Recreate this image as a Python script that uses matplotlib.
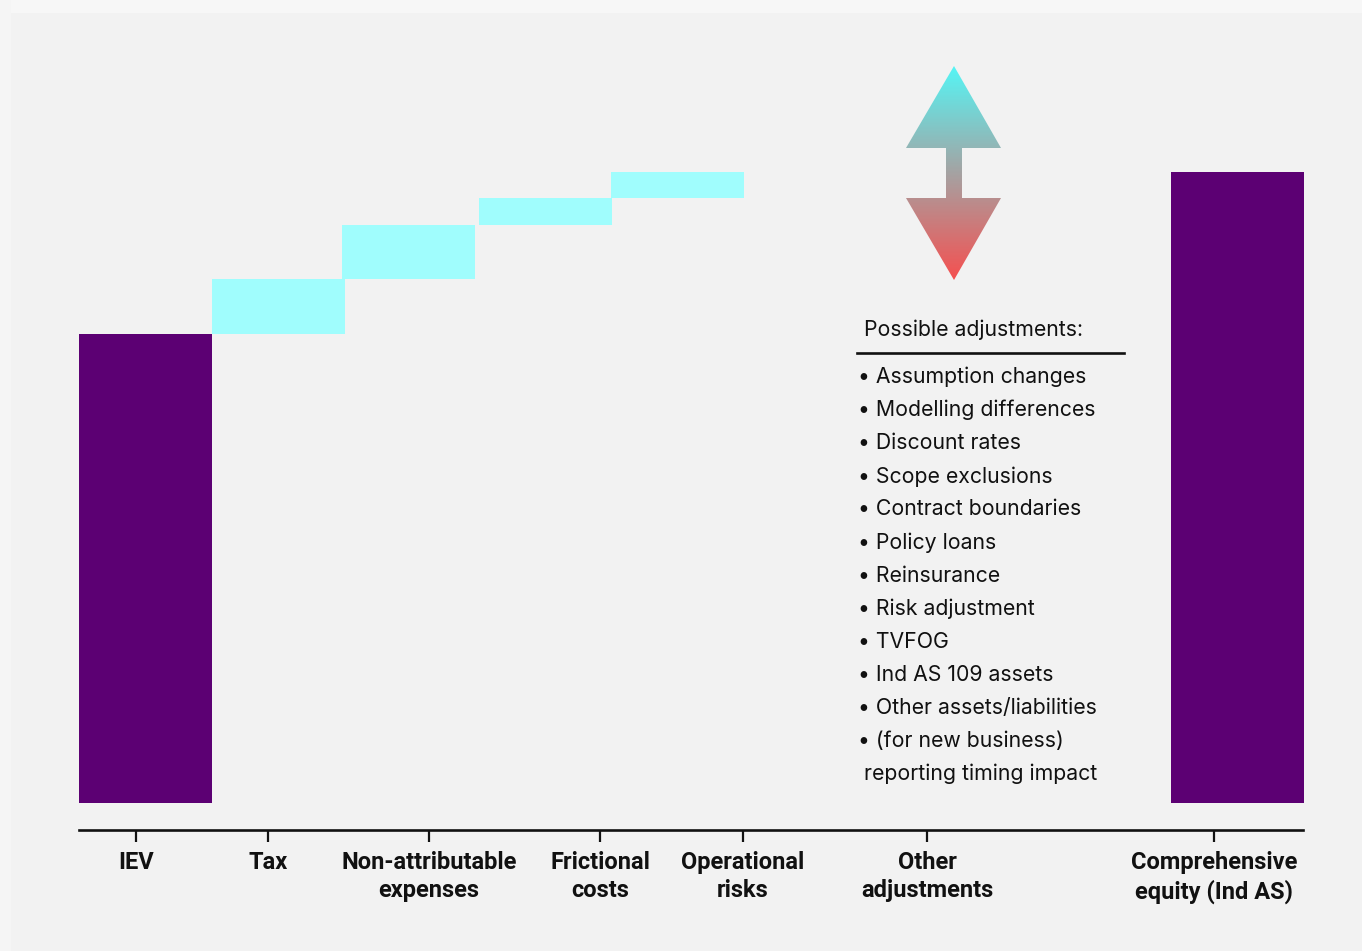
import matplotlib
matplotlib.use("Agg")
import matplotlib.pyplot as plt
import numpy as np
from matplotlib.patches import Polygon, Rectangle
from matplotlib.colors import LinearSegmentedColormap

# ---- data -------------------------------------------------------------
categories = ["IEV", "Tax", "Non-attributable\nexpenses", "Frictional\ncosts",
              "Operational\nrisks", "Other\nadjustments", "Comprehensive\nequity (Ind AS)"]
start_value = 100.0                       # IEV
step_values = [11.7, 11.7, 5.7, 5.6]      # tax, non-attributable, frictional, operational
adjustment_items = ["Assumption changes", "Modelling differences", "Discount rates",
                    "Scope exclusions", "Contract boundaries", "Policy loans",
                    "Reinsurance", "Risk adjustment", "TVFOG", "Ind AS 109 assets",
                    "Other assets/liabilities", "(for new business)"]
adjustment_tail = "reporting timing impact"

# ---- layout -----------------------------------------------------------
W, H = 1362, 951
PX_X0, PX_UNIT = 79.0, 133.0      # pixel of x=0, pixels per x unit
PX_Y0, PX_VAL = 803.0, 4.688      # pixel of y=0, pixels per value unit

bar_left = [0.0, 1.0, 1.977, 3.008, 4.0]
total_left = 8.207
tick_pos = [0.429, 1.421, 2.632, 3.917, 4.992, 6.376, 8.534]
axis_y = -(830 - PX_Y0) / PX_VAL

PURPLE = "#5c0073"
CYAN = "#a0fdfd"
BG = "#f2f2f2"
INK = "#111111"

plt.rcParams["font.family"] = ["Inter", "DejaVu Sans"]

fig = plt.figure(figsize=(W / 100, H / 100), dpi=100, facecolor=BG)
ax = fig.add_axes([0, 0, 1, 1])
ax.set_facecolor("none")
ax.set_xlim(-PX_X0 / PX_UNIT, (W - PX_X0) / PX_UNIT)
ax.set_ylim(-(H - PX_Y0) / PX_VAL, PX_Y0 / PX_VAL)

# light frame band along top and left edges
fig.patches.append(Rectangle((0, 1 - 13 / H), 1, 13 / H, transform=fig.transFigure,
                             facecolor="#f7f7f7", edgecolor="none", zorder=0))
fig.patches.append(Rectangle((0, 0), 11 / W, 1, transform=fig.transFigure,
                             facecolor="#f5f5f5", edgecolor="none", zorder=0))

# ---- bars -------------------------------------------------------------
ax.bar(0.0, start_value, width=1.0, align="edge", color=PURPLE, linewidth=0)
running = start_value
for left, val in zip(bar_left[1:], step_values):
    ax.bar(left, val, width=1.0, bottom=running, align="edge", color=CYAN, linewidth=0)
    running += val
ax.bar(total_left, running, width=1.0, align="edge", color=PURPLE, linewidth=0)

# ---- axis -------------------------------------------------------------
for s in ["top", "left", "right"]:
    ax.spines[s].set_visible(False)
ax.spines["bottom"].set_position(("data", axis_y))
ax.spines["bottom"].set_bounds(0, (1303 - PX_X0) / PX_UNIT)
ax.spines["bottom"].set_linewidth(1.9)
ax.spines["bottom"].set_color(INK)
ax.set_yticks([])
ax.set_xticks(tick_pos)
ax.set_xticklabels(categories, fontfamily=["Roboto", "DejaVu Sans"], fontweight="bold",
                   fontsize=17, color=INK, linespacing=1.3)
ax.tick_params(axis="x", direction="out", length=8.5, width=1.6, color=INK, pad=6.5)

# ---- double-headed gradient arrow --------------------------------------
def px(xp, yp):
    return ((xp - PX_X0) / PX_UNIT, (PX_Y0 - yp) / PX_VAL)

arrow_pts = [px(954, 66), px(1001, 148), px(962, 148), px(962, 198), px(1001, 198),
             px(954, 280), px(906, 198), px(946, 198), px(946, 148), px(906, 148)]
arrow = Polygon(arrow_pts, closed=True, facecolor="none", edgecolor="none")
ax.add_patch(arrow)
cmap = LinearSegmentedColormap.from_list("updown", ["#55f5f5", "#f55050"])
grad = np.linspace(0, 1, 256).reshape(-1, 1)
x0, ytop = px(906, 66)
x1, ybot = px(1001, 280)
img = ax.imshow(grad, cmap=cmap, aspect="auto", extent=[x0, x1, ybot, ytop],
                origin="upper", interpolation="bilinear", zorder=3)
img.set_clip_path(arrow)

# ---- adjustments list -------------------------------------------------
FS = 15.3
fig.text(864 / W, 1 - 330 / H, "Possible adjustments:", fontsize=FS,
         color=INK, va="center", ha="left")
fig.add_artist(plt.Line2D([857 / W, 1124 / W], [1 - 353 / H, 1 - 353 / H],
                          transform=fig.transFigure, color=INK, linewidth=1.9))
for i, item in enumerate(adjustment_items):
    yy = 377 + i * 33.1
    fig.text(858 / W, 1 - yy / H, "\u2022 " + item, fontsize=FS, color=INK,
             va="center", ha="left")
fig.text(864 / W, 1 - (377 + 12 * 33.1) / H, adjustment_tail, fontsize=FS,
         color=INK, va="center", ha="left")

fig.savefig("out.png", dpi=100, facecolor=BG)
